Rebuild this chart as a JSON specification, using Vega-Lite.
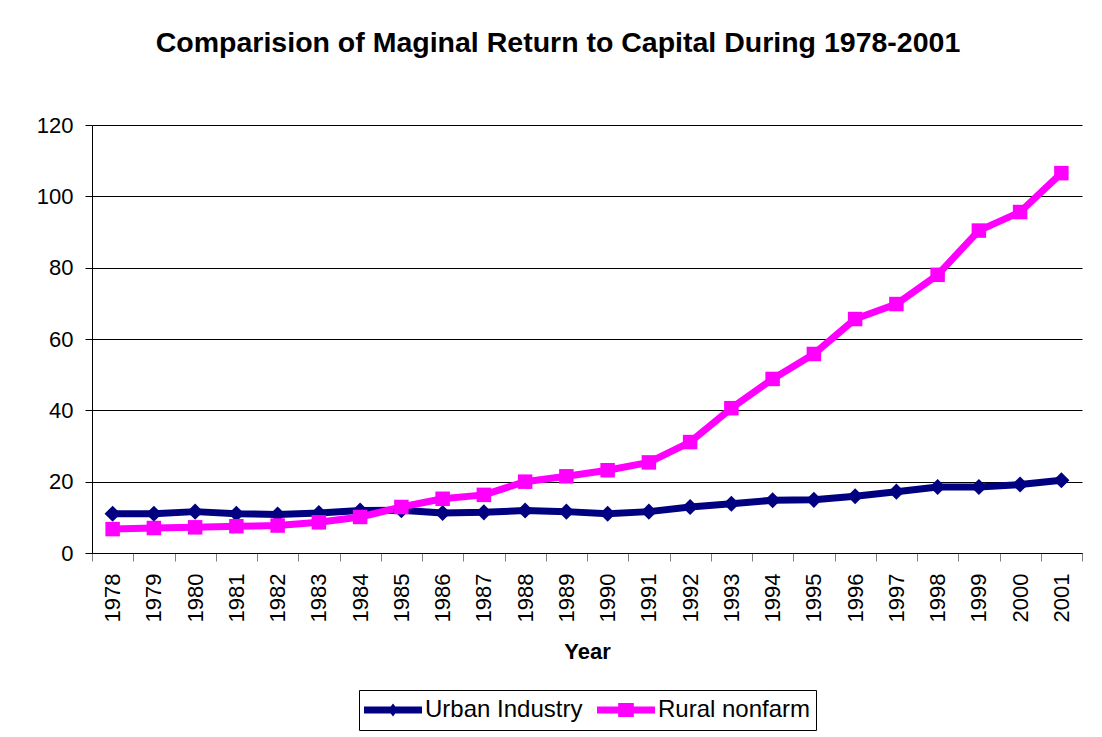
{
  "$schema": "https://vega.github.io/schema/vega-lite/v6.json",
  "autosize": "none",
  "width": 990,
  "height": 428,
  "padding": {"left": 92, "top": 125, "right": 20, "bottom": 184},
  "background": "white",
  "config": {
    "font": "Liberation Sans",
    "view": {"stroke": null},
    "axis": {"labelFont": "Liberation Sans", "titleFont": "Liberation Sans", "labelColor": "black", "titleColor": "black"},
    "legend": {"layout": {"bottom": {"anchor": "middle"}}}
  },
  "title": {
    "text": "Comparision of Maginal Return to Capital During 1978-2001",
    "font": "Liberation Sans",
    "fontSize": 28.5,
    "fontWeight": "bold",
    "color": "black",
    "anchor": "middle",
    "dx": -29,
    "offset": 57
  },
  "data": {
    "values": [
      {"year": 1978, "series": "Urban Industry", "value": 11.0},
      {"year": 1979, "series": "Urban Industry", "value": 11.0},
      {"year": 1980, "series": "Urban Industry", "value": 11.6},
      {"year": 1981, "series": "Urban Industry", "value": 11.0},
      {"year": 1982, "series": "Urban Industry", "value": 10.8},
      {"year": 1983, "series": "Urban Industry", "value": 11.2},
      {"year": 1984, "series": "Urban Industry", "value": 11.9},
      {"year": 1985, "series": "Urban Industry", "value": 12.0},
      {"year": 1986, "series": "Urban Industry", "value": 11.2},
      {"year": 1987, "series": "Urban Industry", "value": 11.4},
      {"year": 1988, "series": "Urban Industry", "value": 11.9},
      {"year": 1989, "series": "Urban Industry", "value": 11.6},
      {"year": 1990, "series": "Urban Industry", "value": 11.0},
      {"year": 1991, "series": "Urban Industry", "value": 11.6},
      {"year": 1992, "series": "Urban Industry", "value": 12.9},
      {"year": 1993, "series": "Urban Industry", "value": 13.8},
      {"year": 1994, "series": "Urban Industry", "value": 14.8},
      {"year": 1995, "series": "Urban Industry", "value": 14.9},
      {"year": 1996, "series": "Urban Industry", "value": 15.9},
      {"year": 1997, "series": "Urban Industry", "value": 17.2},
      {"year": 1998, "series": "Urban Industry", "value": 18.5},
      {"year": 1999, "series": "Urban Industry", "value": 18.5},
      {"year": 2000, "series": "Urban Industry", "value": 19.2},
      {"year": 2001, "series": "Urban Industry", "value": 20.4},
      {"year": 1978, "series": "Rural nonfarm", "value": 6.7},
      {"year": 1979, "series": "Rural nonfarm", "value": 7.0},
      {"year": 1980, "series": "Rural nonfarm", "value": 7.2},
      {"year": 1981, "series": "Rural nonfarm", "value": 7.5},
      {"year": 1982, "series": "Rural nonfarm", "value": 7.7},
      {"year": 1983, "series": "Rural nonfarm", "value": 8.6},
      {"year": 1984, "series": "Rural nonfarm", "value": 10.1},
      {"year": 1985, "series": "Rural nonfarm", "value": 12.9},
      {"year": 1986, "series": "Rural nonfarm", "value": 15.2},
      {"year": 1987, "series": "Rural nonfarm", "value": 16.3},
      {"year": 1988, "series": "Rural nonfarm", "value": 20.0},
      {"year": 1989, "series": "Rural nonfarm", "value": 21.5},
      {"year": 1990, "series": "Rural nonfarm", "value": 23.2},
      {"year": 1991, "series": "Rural nonfarm", "value": 25.4},
      {"year": 1992, "series": "Rural nonfarm", "value": 31.1},
      {"year": 1993, "series": "Rural nonfarm", "value": 40.6},
      {"year": 1994, "series": "Rural nonfarm", "value": 48.8},
      {"year": 1995, "series": "Rural nonfarm", "value": 55.8},
      {"year": 1996, "series": "Rural nonfarm", "value": 65.6},
      {"year": 1997, "series": "Rural nonfarm", "value": 69.8},
      {"year": 1998, "series": "Rural nonfarm", "value": 78.0},
      {"year": 1999, "series": "Rural nonfarm", "value": 90.4},
      {"year": 2000, "series": "Rural nonfarm", "value": 95.6},
      {"year": 2001, "series": "Rural nonfarm", "value": 106.5}
    ]
  },
  "encoding": {
    "x": {
      "field": "year",
      "type": "ordinal",
      "bandPosition": 0.5,
      "scale": {"type": "band", "paddingInner": 0, "paddingOuter": 0},
      "axis": {
        "title": "Year",
        "titleFontSize": 22,
        "titleFontWeight": "bold",
        "titlePadding": 20,
        "labelAngle": -90,
        "labelFontSize": 22,
        "labelPadding": 12,
        "tickBand": "extent",
        "tickSize": 8,
        "tickColor": "#808080",
        "domainColor": "black",
        "grid": false
      }
    },
    "y": {
      "field": "value",
      "type": "quantitative",
      "scale": {"domain": [0, 120], "nice": false},
      "axis": {
        "title": null,
        "values": [0, 20, 40, 60, 80, 100, 120],
        "labelFontSize": 22,
        "labelPadding": 12,
        "tickSize": 7,
        "tickColor": "black",
        "domainColor": "black",
        "grid": true,
        "gridColor": "black",
        "gridOpacity": 1,
        "gridWidth": 1
      }
    },
    "color": {
      "field": "series",
      "type": "nominal",
      "scale": {"domain": ["Urban Industry", "Rural nonfarm"], "range": ["#000080", "#FF00FF"]},
      "legend": {
        "title": null,
        "orient": "bottom",
        "direction": "horizontal",
        "labelFont": "Liberation Sans",
        "labelFontSize": 24,
        "labelColor": "black",
        "symbolSize": 3364,
        "clipHeight": 30,
        "strokeColor": "black",
        "padding": 5,
        "labelOffset": 3,
        "columnPadding": 14,
        "offset": 27,
        "encode": {
          "symbols": {
            "update": {
              "shape": {"signal": "datum.value === 'Urban Industry' ? 'M-1,-0.12L1,-0.12L1,0.12L-1,0.12ZM-0.17,0L0,-0.22L0.17,0L0,0.22Z' : 'M-1,-0.12L1,-0.12L1,0.12L-1,0.12ZM-0.27,-0.24L0.27,-0.24L0.27,0.24L-0.27,0.24Z'"},
              "fill": {"signal": "scale('color', datum.value)"},
              "stroke": {"value": "transparent"},
              "strokeWidth": {"value": 0},
              "size": {"value": 3364},
              "opacity": {"value": 1}
            }
          }
        }
      }
    }
  },
  "layer": [
    {
      "mark": {"type": "line", "strokeWidth": 7, "strokeJoin": "round", "strokeCap": "round"}
    },
    {
      "transform": [{"filter": "datum.series === 'Urban Industry'"}],
      "mark": {"type": "point", "filled": true, "opacity": 1, "shape": "diamond", "size": 260}
    },
    {
      "transform": [{"filter": "datum.series === 'Rural nonfarm'"}],
      "mark": {"type": "point", "filled": true, "opacity": 1, "shape": "square", "size": 210}
    }
  ]
}
